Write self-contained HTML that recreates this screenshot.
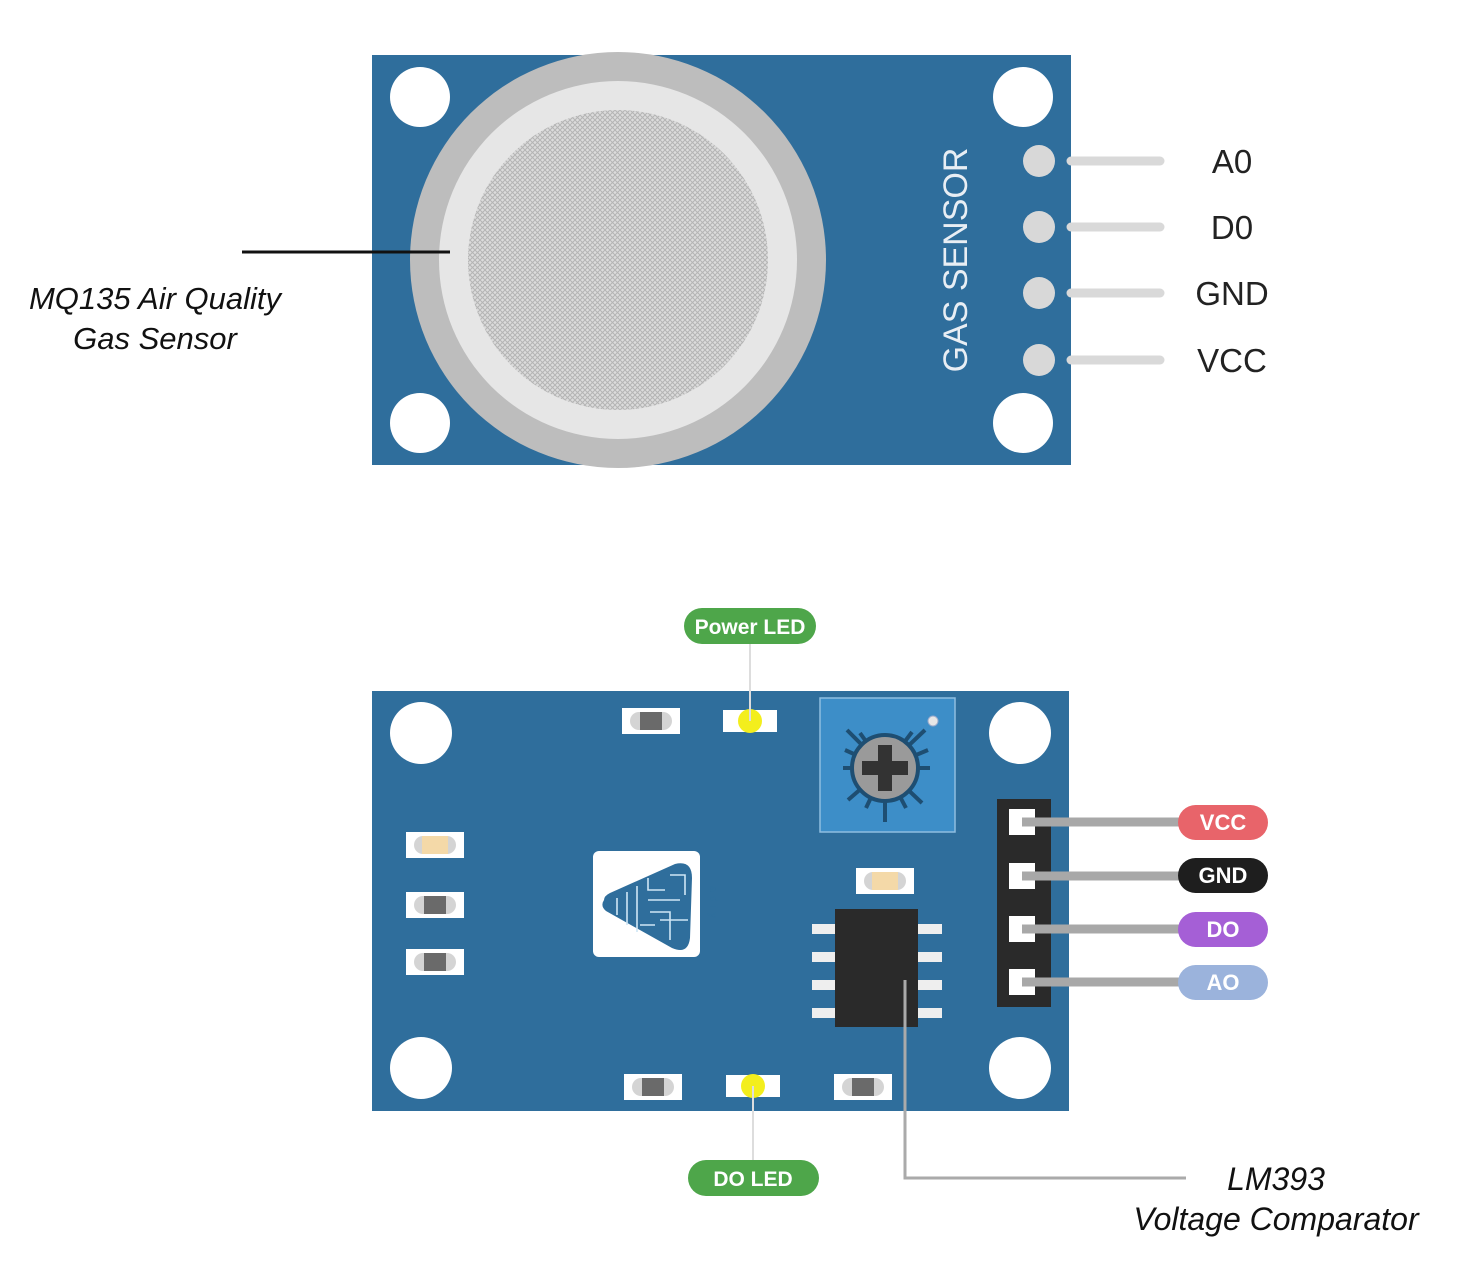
<!DOCTYPE html>
<html><head><meta charset="utf-8"><style>
html,body{margin:0;padding:0;background:#fff;}
svg{display:block;}
</style></head><body>
<svg width="1472" height="1286" viewBox="0 0 1472 1286" xmlns="http://www.w3.org/2000/svg" font-family="Liberation Sans, sans-serif">
<defs>
<pattern id="mesh" width="5" height="5" patternUnits="userSpaceOnUse">
<rect width="5" height="5" fill="#dcdcdc"/>
<path d="M0 0L5 5M5 0L0 5" stroke="#b4b4b4" stroke-width="1"/>
</pattern>
<g id="res">
<rect x="-29" y="-13" width="58" height="26" fill="#fff"/>
<rect x="-21" y="-9" width="42" height="18" rx="9" fill="#d4d4d4"/>
<rect x="-11" y="-9" width="22" height="18" fill="#6a6a6a"/>
</g>
<g id="cap">
<rect x="-29" y="-13" width="58" height="26" fill="#fff"/>
<rect x="-21" y="-9" width="42" height="18" rx="9" fill="#d4d4d4"/>
<rect x="-13" y="-9" width="26" height="18" fill="#f4d9a8"/>
</g>
<g id="led">
<rect x="-27" y="-11" width="54" height="22" fill="#fff"/>
<circle r="12" fill="#f3ee1d"/>
</g>
</defs>

<!-- Top board -->
<rect x="372" y="55" width="699" height="410" fill="#2f6e9c"/>
<circle cx="420" cy="97" r="30" fill="#fff"/>
<circle cx="1023" cy="97" r="30" fill="#fff"/>
<circle cx="420" cy="423" r="30" fill="#fff"/>
<circle cx="1023" cy="423" r="30" fill="#fff"/>
<circle cx="618" cy="260" r="208" fill="#bdbdbd"/>
<circle cx="618" cy="260" r="179" fill="#e6e6e6"/>
<circle cx="618" cy="260" r="150" fill="url(#mesh)"/>
<text x="0" y="0" transform="translate(967,260) rotate(-90)" text-anchor="middle" fill="#e8eef4" font-size="34">GAS SENSOR</text>
<g stroke="#d9d9d9" stroke-width="9" stroke-linecap="round">
<line x1="1071" y1="161" x2="1160" y2="161"/>
<line x1="1071" y1="227" x2="1160" y2="227"/>
<line x1="1071" y1="293" x2="1160" y2="293"/>
<line x1="1071" y1="360" x2="1160" y2="360"/>
</g>
<g fill="#d8d8d8">
<circle cx="1039" cy="161" r="16"/>
<circle cx="1039" cy="227" r="16"/>
<circle cx="1039" cy="293" r="16"/>
<circle cx="1039" cy="360" r="16"/>
</g>
<g font-size="33" fill="#222" text-anchor="middle">
<text x="1232" y="173">A0</text>
<text x="1232" y="239">D0</text>
<text x="1232" y="305">GND</text>
<text x="1232" y="372">VCC</text>
</g>
<line x1="242" y1="252" x2="450" y2="252" stroke="#111" stroke-width="3"/>
<g font-size="31" font-style="italic" fill="#111" text-anchor="middle">
<text x="155" y="309">MQ135 Air Quality</text>
<text x="155" y="349">Gas Sensor</text>
</g>

<!-- Bottom board -->
<rect x="372" y="691" width="697" height="420" fill="#2f6e9c"/>
<circle cx="421" cy="733" r="31" fill="#fff"/>
<circle cx="1020" cy="733" r="31" fill="#fff"/>
<circle cx="421" cy="1068" r="31" fill="#fff"/>
<circle cx="1020" cy="1068" r="31" fill="#fff"/>

<use href="#cap" x="435" y="845"/>
<use href="#res" x="435" y="905"/>
<use href="#res" x="435" y="962"/>
<use href="#res" x="651" y="721"/>
<use href="#cap" x="885" y="881"/>
<use href="#res" x="653" y="1087"/>
<use href="#res" x="863" y="1087"/>

<!-- pot -->
<rect x="820" y="698" width="135" height="134" fill="#3d8ec8" stroke="#8fbde0" stroke-width="1.5"/>
<circle cx="933" cy="721" r="5" fill="#e6e6e6" stroke="#9ac" stroke-width="1"/>
<g stroke="#1e4e72" stroke-width="4">
<line x1="885" y1="768" x2="885" y2="822"/>
<line x1="885" y1="768" x2="847" y2="730"/>
<line x1="885" y1="768" x2="925" y2="730"/>
<line x1="885" y1="768" x2="843" y2="768"/>
<line x1="885" y1="768" x2="930" y2="768"/>
<line x1="885" y1="768" x2="848" y2="800"/>
<line x1="885" y1="768" x2="922" y2="803"/>
<line x1="885" y1="768" x2="860" y2="733"/>
<line x1="885" y1="768" x2="912" y2="732"/>
<line x1="885" y1="768" x2="845" y2="750"/>
<line x1="885" y1="768" x2="928" y2="750"/>
<line x1="885" y1="768" x2="866" y2="808"/>
<line x1="885" y1="768" x2="906" y2="808"/>
</g>
<circle cx="885" cy="768" r="33" fill="#9a9a9a" stroke="#1e4e72" stroke-width="4"/>
<rect x="862" y="761" width="46" height="14" fill="#333"/>
<rect x="878" y="745" width="14" height="46" fill="#333"/>

<!-- logo -->
<rect x="593" y="851" width="107" height="106" rx="6" fill="#fff"/>
<path d="M604 900 Q600 906 606 911 L672 948 Q688 955 690 938 L692 878 Q692 860 675 864 L610 893 Q604 896 604 900Z" fill="#2f6e9c"/>
<g stroke="#cfe6f5" stroke-width="1.6" fill="none">
<path d="M617 898 V915 M627 892 V925 M637 886 V932 M648 878 V890 H665 M648 900 H680 M650 912 H670 V940 M660 920 H688 M640 925 H655 M670 875 H685 V895"/>
</g>
<text x="0" y="0" transform="translate(710,904) rotate(90)" text-anchor="middle" font-size="11" fill="#2f6e9c" letter-spacing="4">adiy</text>

<!-- IC -->
<g fill="#eee">
<rect x="812" y="924" width="24" height="10"/><rect x="812" y="952" width="24" height="10"/>
<rect x="812" y="980" width="24" height="10"/><rect x="812" y="1008" width="24" height="10"/>
<rect x="918" y="924" width="24" height="10"/><rect x="918" y="952" width="24" height="10"/>
<rect x="918" y="980" width="24" height="10"/><rect x="918" y="1008" width="24" height="10"/>
</g>
<rect x="835" y="909" width="83" height="118" fill="#2a2a2a"/>

<!-- LEDs -->
<use href="#led" x="750" y="721"/>
<use href="#led" x="753" y="1086"/>
<line x1="750" y1="643" x2="750" y2="721" stroke="#ddd" stroke-width="2"/>
<line x1="753" y1="1086" x2="753" y2="1161" stroke="#ddd" stroke-width="2"/>

<!-- header -->
<rect x="997" y="799" width="54" height="208" fill="#2a2a2a"/>
<g fill="#fff">
<rect x="1009" y="809" width="26" height="26"/>
<rect x="1009" y="863" width="26" height="26"/>
<rect x="1009" y="916" width="26" height="26"/>
<rect x="1009" y="969" width="26" height="26"/>
</g>
<g stroke="#a8a8a8" stroke-width="9">
<line x1="1022" y1="822" x2="1182" y2="822"/>
<line x1="1022" y1="876" x2="1182" y2="876"/>
<line x1="1022" y1="929" x2="1182" y2="929"/>
<line x1="1022" y1="982" x2="1182" y2="982"/>
</g>
<g font-size="22" font-weight="bold" text-anchor="middle" fill="#fff">
<rect x="1178" y="805" width="90" height="35" rx="17.5" fill="#e8646a"/>
<text x="1223" y="830">VCC</text>
<rect x="1178" y="858" width="90" height="35" rx="17.5" fill="#1e1e1e"/>
<text x="1223" y="883">GND</text>
<rect x="1178" y="912" width="90" height="35" rx="17.5" fill="#a55fd6"/>
<text x="1223" y="937">DO</text>
<rect x="1178" y="965" width="90" height="35" rx="17.5" fill="#9bb3dc"/>
<text x="1223" y="990">AO</text>
</g>

<!-- LED labels -->
<rect x="684" y="608" width="132" height="36" rx="18" fill="#4ea64a"/>
<text x="750" y="634" text-anchor="middle" font-size="21" font-weight="bold" fill="#fff">Power LED</text>
<rect x="688" y="1160" width="131" height="36" rx="18" fill="#4ea64a"/>
<text x="753" y="1186" text-anchor="middle" font-size="21" font-weight="bold" fill="#fff">DO LED</text>

<!-- LM393 -->
<polyline points="905,980 905,1178 1186,1178" fill="none" stroke="#aaa" stroke-width="3"/>
<g font-size="32" font-style="italic" fill="#111" text-anchor="middle">
<text x="1276" y="1190">LM393</text>
<text x="1276" y="1230">Voltage Comparator</text>
</g>
</svg>
</body></html>
